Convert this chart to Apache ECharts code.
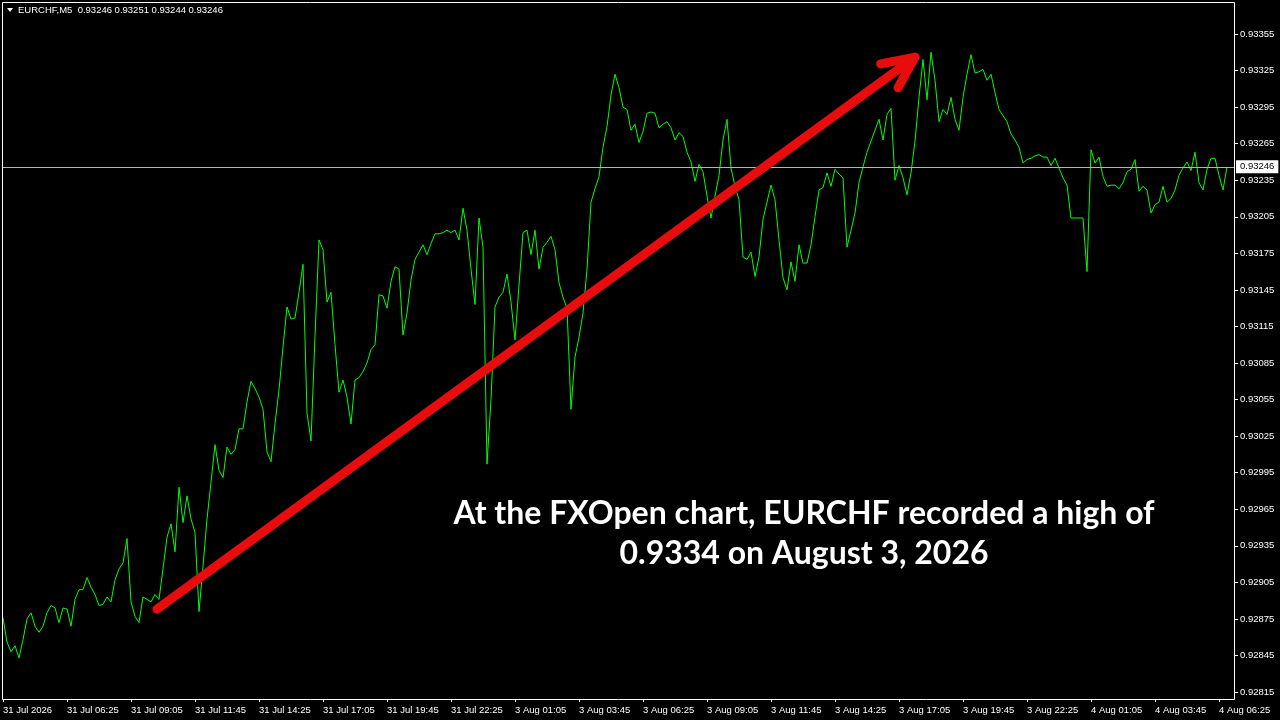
<!DOCTYPE html>
<html><head><meta charset="utf-8">
<script src="https://cdn.jsdelivr.net/npm/echarts@6/dist/echarts.min.js"></script>
<style>html,body{margin:0;padding:0;background:#000;} #c{width:1280px;height:720px;}</style>
</head><body><div id="c"></div>
<script>
const symbolName = 'EURCHF,M5';
const ohlc = ['0.93246', '0.93251', '0.93244', '0.93246'];
const tickLabels = ['31 Jul 2026','31 Jul 06:25','31 Jul 09:05','31 Jul 11:45','31 Jul 14:25','31 Jul 17:05','31 Jul 19:45','31 Jul 22:25','3 Aug 01:05','3 Aug 03:45','3 Aug 06:25','3 Aug 09:05','3 Aug 11:45','3 Aug 14:25','3 Aug 17:05','3 Aug 19:45','3 Aug 22:25','4 Aug 01:05','4 Aug 03:45','4 Aug 06:25'];
const barsPerTick = 32;
const sampleStep = 2; // close price read every 2nd M5 bar
const closePrices = [
0.92876,0.92856,0.92848,0.92853,0.92843,0.92858,0.92875,0.92880,0.92869,0.92864,
0.92869,0.92880,0.92886,0.92884,0.92872,0.92884,0.92883,0.92869,0.92891,0.92899,
0.92899,0.92909,0.92901,0.92895,0.92886,0.92887,0.92893,0.92889,0.92907,0.92916,
0.92921,0.92941,0.92889,0.92877,0.92872,0.92893,0.92891,0.92889,0.92895,0.92891,
0.92916,0.92942,0.92953,0.92930,0.92983,0.92954,0.92976,0.92957,0.92946,0.92881,
0.92918,0.92957,0.92987,0.93018,0.92997,0.92991,0.93016,0.93010,0.93014,0.93031,
0.93031,0.93053,0.93070,0.93064,0.93057,0.93047,0.93012,0.93004,0.93035,0.93063,
0.93098,0.93131,0.93121,0.93122,0.93143,0.93166,0.93044,0.93021,0.93107,0.93186,
0.93178,0.93135,0.93143,0.93100,0.93061,0.93071,0.93057,0.93035,0.93071,0.93073,
0.93078,0.93085,0.93096,0.93100,0.93141,0.93140,0.93130,0.93152,0.93164,0.93162,
0.93108,0.93126,0.93153,0.93170,0.93176,0.93182,0.93174,0.93183,0.93191,0.93191,
0.93192,0.93194,0.93192,0.93194,0.93186,0.93212,0.93194,0.93162,0.93133,0.93204,
0.93180,0.93002,0.93055,0.93131,0.93139,0.93143,0.93158,0.93135,0.93104,0.93149,
0.93192,0.93194,0.93174,0.93194,0.93162,0.93180,0.93184,0.93189,0.93178,0.93151,
0.93139,0.93130,0.93047,0.93090,0.93106,0.93126,0.93162,0.93217,0.93228,0.93238,
0.93262,0.93279,0.93305,0.93322,0.93311,0.93295,0.93293,0.93276,0.93281,0.93266,
0.93275,0.93290,0.93291,0.93290,0.93278,0.93281,0.93283,0.93278,0.93268,0.93274,
0.93271,0.93258,0.93250,0.93234,0.93248,0.93242,0.93222,0.93204,0.93222,0.93239,
0.93268,0.93285,0.93245,0.93230,0.93219,0.93172,0.93170,0.93176,0.93156,0.93172,
0.93203,0.93217,0.93231,0.93219,0.93186,0.93155,0.93145,0.93168,0.93152,0.93182,
0.93167,0.93167,0.93182,0.93205,0.93227,0.93229,0.93241,0.93230,0.93244,0.93240,
0.93237,0.93180,0.93194,0.93208,0.93233,0.93246,0.93258,0.93267,0.93276,0.93285,
0.93268,0.93289,0.93294,0.93235,0.93247,0.93237,0.93223,0.93241,0.93267,0.93303,
0.93334,0.93301,0.93340,0.93317,0.93283,0.93293,0.93289,0.93303,0.93285,0.93276,
0.93303,0.93322,0.93338,0.93323,0.93324,0.93326,0.93317,0.93322,0.93307,0.93293,
0.93288,0.93283,0.93273,0.93268,0.93262,0.93249,0.93252,0.93253,0.93255,0.93256,
0.93254,0.93254,0.93247,0.93253,0.93245,0.93237,0.93231,0.93204,0.93204,0.93204,
0.93204,0.93160,0.93260,0.93249,0.93254,0.93238,0.93230,0.93231,0.93231,0.93228,
0.93233,0.93242,0.93244,0.93252,0.93226,0.93230,0.93227,0.93208,0.93215,0.93217,
0.93230,0.93217,0.93220,0.93227,0.93239,0.93245,0.93250,0.93243,0.93258,0.93233,
0.93227,0.93244,0.93253,0.93253,0.93239,0.93227,0.93246
];
const currentPrice = 0.93246;
const yMin = 0.92815, yMax = 0.93355, yStep = 0.0003;
const xMin = 0, xMax = 616;
const arrowFrom = [77, 0.92883];
const arrowTo = [456, 0.93336];
const noteLines = ['At the FXOpen chart, EURCHF recorded a high of', '0.9334 on August 3, 2026'];

const chart = echarts.init(document.getElementById('c'), null, {renderer: 'canvas'});
const lineData = closePrices.map((p, i) => [i * sampleStep, p]);
const labelFont = 'Liberation Sans, Arial, sans-serif';

chart.setOption({
  animation: false,
  backgroundColor: '#000000',
  grid: {left: 3, top: 34, width: 1232, height: 658, containLabel: false},
  xAxis: {
    type: 'value', min: xMin, max: xMax, interval: barsPerTick, offset: 7,
    axisLine: {show: false, onZero: false},
    axisTick: {show: true, length: 3, lineStyle: {color: '#ffffff', width: 1}},
    splitLine: {show: false},
    axisLabel: {
      show: true, color: '#ffffff', fontSize: 9.5, fontFamily: labelFont, margin: 6, align: 'left',
      showMaxLabel: false,
      formatter: v => { const k = v / barsPerTick; return Number.isInteger(k) && tickLabels[k] ? tickLabels[k] : ''; }
    }
  },
  yAxis: {
    type: 'value', position: 'right', min: yMin, max: yMax, interval: yStep,
    axisLine: {show: false, onZero: false},
    axisTick: {show: true, length: 3, lineStyle: {color: '#ffffff', width: 1}},
    splitLine: {show: false},
    axisLabel: {show: true, color: '#ffffff', fontSize: 9.5, fontFamily: labelFont, margin: 5,
      formatter: v => v.toFixed(5)}
  },
  series: [{
    type: 'line', data: lineData, showSymbol: false, symbol: 'none', silent: true,
    lineStyle: {color: '#00ff00', width: 1}, clip: true,
    markLine: {
      silent: true, symbol: ['none', 'none'],
      lineStyle: {color: '#b4b4b4', width: 1, type: 'solid'},
      label: {show: true, position: 'end', distance: 1, formatter: currentPrice.toFixed(5),
        color: '#000000', backgroundColor: '#ffffff', padding: [2, 4, 1, 4],
        fontSize: 9.5, fontFamily: labelFont},
      data: [[{coord: [xMin, currentPrice]}, {coord: [xMax, currentPrice]}]]
    }
  }]
});

const p0 = chart.convertToPixel({gridIndex: 0}, arrowFrom);
const p1 = chart.convertToPixel({gridIndex: 0}, arrowTo);
const back = Math.atan2(p0[1] - p1[1], p0[0] - p1[0]);
const headLen = 35, headAng = 25 * Math.PI / 180;
const a1 = [p1[0] + headLen * Math.cos(back + headAng), p1[1] + headLen * Math.sin(back + headAng)];
const a2 = [p1[0] + headLen * Math.cos(back - headAng), p1[1] + headLen * Math.sin(back - headAng)];
const red = '#e80c0c';

chart.setOption({
  graphic: [
    {type: 'rect', silent: true, shape: {x: 2.5, y: 2.5, width: 1232, height: 697},
      style: {fill: 'none', stroke: '#ffffff', lineWidth: 1}, z: 10},
    {type: 'polygon', silent: true, shape: {points: [[7, 8], [13, 8], [10, 12]]},
      style: {fill: '#ffffff'}, z: 10},
    {type: 'text', silent: true, x: 18, y: 10, z: 10,
      style: {text: symbolName + '  ' + ohlc.join(' '), fill: '#ffffff', font: '9.5px ' + labelFont,
        textVerticalAlign: 'middle', textAlign: 'left'}},
    {type: 'line', silent: true, z: 20, shape: {x1: p0[0], y1: p0[1], x2: p1[0], y2: p1[1]},
      style: {stroke: red, lineWidth: 9, lineCap: 'round'}},
    {type: 'polyline', silent: true, z: 20, shape: {points: [a1, p1, a2]},
      style: {stroke: red, lineWidth: 9, lineCap: 'round', lineJoin: 'round', fill: 'none'}},
    {type: 'text', silent: true, z: 20, x: 804, y: 534,
      style: {text: noteLines.join('\n'), fill: '#ffffff', fontSize: 32, fontWeight: 'bold',
        fontFamily: 'Lato, Open Sans, sans-serif', lineHeight: 40, textAlign: 'center', textVerticalAlign: 'middle'}}
  ]
});
</script>
</body></html>
